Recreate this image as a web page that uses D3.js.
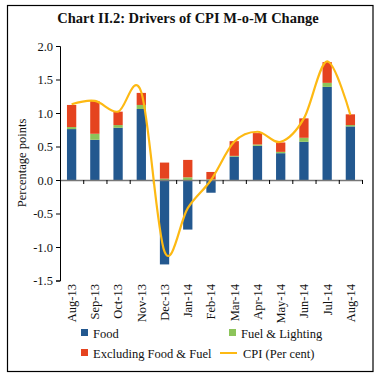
<!DOCTYPE html>
<html><head><meta charset="utf-8">
<script src="https://cdn.jsdelivr.net/npm/d3@7"></script>
<style>
html,body{margin:0;padding:0;background:#fff;}
svg{display:block;}
text{font-family:"Liberation Serif","DejaVu Serif",serif;fill:#111;}
</style></head>
<body>
<svg id="c" width="379" height="379"></svg>
<script>
const months = ["Aug-13","Sep-13","Oct-13","Nov-13","Dec-13","Jan-14","Feb-14","Mar-14","Apr-14","May-14","Jun-14","Jul-14","Aug-14"];
const food   = [0.76, 0.60, 0.78, 1.06, -1.26, -0.74, -0.19, 0.35, 0.51, 0.40, 0.57, 1.39, 0.80];
const fuel   = [0.03, 0.09, 0.04, 0.06, 0.02, 0.04, 0.01, 0.01, 0.02, 0.02, 0.06, 0.06, 0.02];
const excl   = [0.33, 0.49, 0.20, 0.18, 0.24, 0.26, 0.11, 0.22, 0.17, 0.14, 0.29, 0.31, 0.16];
const cpi    = [1.13, 1.18, 1.02, 1.31, -1.07, -0.42, 0.00, 0.57, 0.72, 0.57, 0.92, 1.77, 0.97];
const yTicks = [-1.5, -1.0, -0.5, 0.0, 0.5, 1.0, 1.5, 2.0];
const seriesNames = ["Food", "Fuel & Lighting", "Excluding Food & Fuel"];
const lineName = "CPI (Per cent)";
const title = "Chart II.2: Drivers of CPI M-o-M Change";
const yLabel = "Percentage points";

const colors = {"Food":"#23588f","Fuel & Lighting":"#8cc45a","Excluding Food & Fuel":"#e5431f"};
const lineColor = "#fdb913";

const svg = d3.select("#c");
svg.append("rect").attr("x",7.5).attr("y",5.5).attr("width",365.5).attr("height",366)
  .attr("fill","none").attr("stroke","#000").attr("stroke-width",1.2);

svg.append("text").attr("x",188).attr("y",23).attr("text-anchor","middle")
  .attr("font-size",14.5).attr("font-weight","bold").text(title);

const x = d3.scaleBand().domain(months).range([60,362]).paddingInner(0.6).paddingOuter(0.3);
const y = d3.scaleLinear().domain([-1.5,2.0]).range([280.5,46]);

const table = months.map((m,i)=>({month:m,"Food":food[i],"Fuel & Lighting":fuel[i],"Excluding Food & Fuel":excl[i]}));
const stack = d3.stack().keys(seriesNames).offset(d3.stackOffsetDiverging)(table);

const g = svg.append("g");
g.selectAll("g.s").data(stack).join("g").attr("fill",d=>colors[d.key])
  .selectAll("rect").data(d=>d).join("rect")
  .attr("x",d=>x(d.data.month)).attr("width",x.bandwidth())
  .attr("y",d=>y(Math.max(d[0],d[1]))).attr("height",d=>Math.abs(y(d[0])-y(d[1])));

const ya = svg.append("g").attr("transform","translate(60,0)")
  .call(d3.axisLeft(y).tickValues(yTicks).tickSize(4).tickPadding(3).tickFormat(d=>d.toFixed(1)));
ya.selectAll("text").attr("font-size",12.5).style("font-family","'Liberation Serif',serif");
ya.selectAll("line,path").attr("stroke","#000");

const idx = d3.scaleLinear().domain([0,months.length]).range(x.range());
const xa = svg.append("g").attr("transform",`translate(0,${y(0)})`)
  .call(d3.axisBottom(idx).tickValues(d3.range(months.length+1)).tickSize(4).tickSizeOuter(0).tickFormat(""));
xa.select("path").attr("stroke","#777").attr("stroke-width",1.6);
xa.selectAll("line").attr("stroke","#000");

svg.append("g").selectAll("text").data(months).join("text")
  .attr("transform",d=>`translate(${x(d)+x.bandwidth()/2},284) rotate(-90)`)
  .attr("text-anchor","end").attr("dy","0.35em").attr("font-size",12.5).text(d=>d);

const line = d3.line().x((d,i)=>x(months[i])+x.bandwidth()/2).y(d=>y(d)).curve(d3.curveCatmullRom.alpha(0));
svg.append("path").datum(cpi).attr("d",line).attr("fill","none")
  .attr("stroke",lineColor).attr("stroke-width",2.2);

svg.append("text").attr("transform","translate(26,163) rotate(-90)")
  .attr("text-anchor","middle").attr("font-size",12.5).text(yLabel);

const leg = [
  {name:"Food",x:81,y:333,type:"rect"},
  {name:"Fuel & Lighting",x:229,y:333,type:"rect"},
  {name:"Excluding Food & Fuel",x:81,y:353,type:"rect"},
  {name:lineName,x:220,y:353,type:"line"}
];
const lg = svg.append("g").selectAll("g").data(leg).join("g");
lg.each(function(d){
  const s=d3.select(this);
  if(d.type==="rect"){
    s.append("rect").attr("x",d.x).attr("y",d.y-4).attr("width",7).attr("height",7).attr("fill",colors[d.name]);
    s.append("text").attr("x",d.x+12).attr("y",d.y+4.5).attr("font-size",12.5).text(d.name);
  } else {
    s.append("line").attr("x1",d.x).attr("x2",d.x+17).attr("y1",d.y).attr("y2",d.y).attr("stroke",lineColor).attr("stroke-width",2);
    s.append("text").attr("x",d.x+23).attr("y",d.y+4.5).attr("font-size",12.5).text(d.name);
  }
});
</script>
</body></html>
